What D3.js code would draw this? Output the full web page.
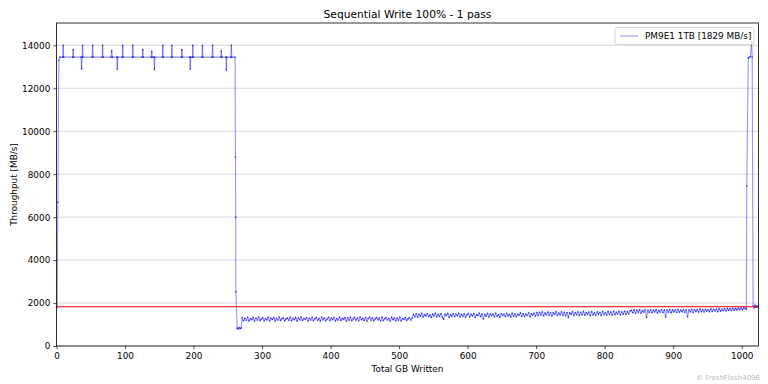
<!DOCTYPE html>
<html>
<head>
<meta charset="utf-8">
<script src="https://cdn.jsdelivr.net/npm/d3@7"></script>
<style>
  body { margin: 0; background: white; }
  svg { display: block; font-family: "DejaVu Sans", sans-serif; }
</style>
</head>
<body>
<div id="chart"></div>
<script>
const title = "Sequential Write 100% - 1 pass";
const seriesName = "PM9E1 1TB [1829 MB/s]";
const avgMBs = 1829;
const xTicks = [0, 100, 200, 300, 400, 500, 600, 700, 800, 900, 1000];
const yTicks = [0, 2000, 4000, 6000, 8000, 10000, 12000, 14000];

// SLC cache phase (GB written, MB/s)
const highGB = [
  0, 1, 2, 3.4, 5,
  8.9, 9.7, 10.5,
  23.6, 24.3, 25,
  35.9, 36.6, 37.3, 38, 38.7,
  52, 52.7, 53.4,
  66.6, 67.3, 68,
  79.6, 80.5, 81.5,
  88, 88.7, 89.4,
  95.9, 96.6, 97.3,
  110.6, 111.3, 112,
  125.2, 125.9, 126.6,
  138.3, 139, 139.7, 142.2, 142.9, 143.6,
  154.5, 155.2, 155.9,
  167.7, 168.4, 169.1,
  182.3, 183, 183.7,
  194.5, 195.2, 195.9, 198.3, 199, 199.7,
  212.3, 213, 213.7,
  227.1, 227.8, 228.5,
  239.8, 240.5, 241.2,
  247.2, 247.9, 248.6,
  254.5, 255.2, 255.9, 260.6,
  261.2, 261.5, 261.8, 263.6, 265, 266.5, 268, 269.5
];
const highMBs = [
  1850, 1800, 6700, 13300, 13450,
  13450, 14000, 13450,
  13450, 13800, 13450,
  13450, 12900, 13450, 14000, 13450,
  13450, 14000, 13450,
  13450, 14000, 13450,
  13450, 13760, 13450,
  13450, 12900, 13450,
  13450, 14000, 13450,
  13450, 14000, 13450,
  13450, 13800, 13450,
  13450, 13720, 13450, 13450, 12880, 13450,
  13450, 14000, 13450,
  13450, 14000, 13450,
  13450, 13800, 13450,
  13450, 12900, 13450, 13450, 14000, 13450,
  13450, 14000, 13450,
  13450, 14000, 13450,
  13450, 13750, 13450,
  13450, 12850, 13450,
  13450, 14000, 13450, 13450,
  8800, 6000, 2530, 830, 790, 860, 810, 840
];

// direct-to-TLC phase, one sample every 2 GB from 271 GB
const lowStartGB = 271;
const lowStepGB = 2;
const lowMBs = [
  1320, 1180, 1290, 1200, 1340, 1170, 1270, 1230, 1330, 1160,
  1300, 1210, 1350, 1190, 1260, 1310, 1170, 1280, 1220, 1340,
  1180, 1300, 1240, 1330, 1160, 1290, 1210, 1350, 1190, 1270,
  1320, 1170, 1260, 1300, 1200, 1340, 1180, 1290, 1230, 1330,
  1160, 1310, 1220, 1350, 1190, 1280, 1240, 1320, 1170, 1300,
  1210, 1340, 1180, 1270, 1330, 1200, 1290, 1160, 1350, 1220,
  1310, 1180, 1260, 1340, 1190, 1300, 1230, 1330, 1170, 1280,
  1210, 1350, 1190, 1290, 1240, 1320, 1160, 1310, 1200, 1340,
  1180, 1270, 1330, 1210, 1300, 1170, 1350, 1230, 1290, 1190,
  1320, 1160, 1280, 1340, 1200, 1310, 1180, 1260, 1330, 1220,
  1300, 1170, 1350, 1190, 1270, 1320, 1210, 1290, 1160, 1340,
  1230, 1310, 1180, 1300, 1200, 1350, 1170, 1280, 1240, 1330,
  1190, 1260, 1320, 1210, 1300,
  1470, 1360, 1500, 1340, 1480, 1390, 1520, 1350, 1460, 1410,
  1510, 1370, 1450, 1330, 1490, 1400, 1530, 1360, 1470, 1380,
  1500, 1350, 1250, 1480, 1420, 1520, 1340, 1460, 1390, 1510,
  1370, 1490, 1410, 1530, 1350, 1470, 1380, 1500, 1340, 1450,
  1520, 1360, 1480, 1400, 1510, 1330, 1460, 1420, 1530, 1370,
  1490, 1260, 1470, 1390, 1520, 1350, 1500, 1410, 1480, 1360,
  1530, 1380, 1460, 1340, 1510, 1420, 1490, 1370, 1520, 1400,
  1470, 1350, 1530, 1390, 1500, 1360, 1480, 1430, 1540, 1380,
  1510, 1370, 1490, 1420, 1540, 1360, 1500, 1440, 1530, 1390,
  1550, 1420, 1570, 1440, 1590, 1410, 1540, 1460, 1580, 1430,
  1560, 1400, 1550, 1470, 1600, 1420, 1530, 1450, 1590, 1440,
  1570, 1410, 1560, 1330, 1540, 1480, 1600, 1430, 1550, 1460,
  1590, 1420, 1570, 1450, 1610, 1440, 1560, 1470, 1580, 1410,
  1600, 1450, 1550, 1430, 1590, 1480, 1570, 1420, 1610, 1460,
  1560, 1440, 1600, 1470, 1580, 1430, 1620, 1460, 1570, 1490,
  1610, 1450, 1590, 1480, 1620, 1470, 1600, 1500, 1630,
  1660, 1550, 1680, 1530, 1670, 1570, 1690, 1540, 1650, 1580,
  1680, 1330, 1660, 1560, 1690, 1550, 1670, 1590, 1700, 1540,
  1660, 1580, 1690, 1560, 1680, 1350, 1670, 1570, 1700, 1550,
  1680, 1590, 1690, 1560, 1710, 1580, 1670, 1600, 1700, 1570,
  1690, 1360, 1680, 1590, 1710, 1570, 1700, 1610, 1690, 1580,
  1720, 1600, 1700, 1590, 1710, 1620, 1690, 1600, 1730, 1610,
  1710, 1630, 1720, 1600, 1740, 1620, 1710, 1650, 1730, 1640,
  1750, 1660, 1740, 1650, 1760, 1670, 1750, 1680, 1770, 1690,
  1760, 1700, 1780
];

// cache recovers briefly near the end
const tailGB = [1005, 1006.8, 1007.4, 1009.6, 1011, 1012.8, 1014.4, 1015.3, 1016.6, 1018, 1019.3, 1020.6, 1022, 1023.5];
const tailMBs = [1750, 1720, 7460, 13400, 13440, 13480, 14150, 13450, 1850, 1780, 1900, 1800, 1870, 1810];

function drawChart(containerSelector, data) {
  const width = 768;
  const height = 384;
  const margin = { top: 23, right: 9.5, bottom: 38, left: 56.5 };

  const svg = d3.select(containerSelector)
    .append("svg")
    .attr("width", width)
    .attr("height", height)
    .style("background", "white");

  const x = d3.scaleLinear()
    .domain([0, 1024.5])
    .range([margin.left, width - margin.right]);

  const y = d3.scaleLinear()
    .domain([0, 15040])
    .range([height - margin.bottom, margin.top]);

  // horizontal grid
  svg.append("g")
    .selectAll("line")
    .data(yTicks)
    .enter()
    .append("line")
      .attr("x1", margin.left)
      .attr("x2", width - margin.right)
      .attr("y1", d => y(d))
      .attr("y2", d => y(d))
      .attr("stroke", "#cfcfcf")
      .attr("stroke-width", 0.8);

  // each step drawn on its own so the translucent strokes pile up where samples are dense
  svg.append("g")
    .selectAll("line")
    .data(d3.pairs(data))
    .enter()
    .append("line")
      .attr("x1", d => x(d[0].gb))
      .attr("y1", d => y(d[0].mbs))
      .attr("x2", d => x(d[1].gb))
      .attr("y2", d => y(d[1].mbs))
      .attr("stroke", "#0000ff")
      .attr("stroke-opacity", 0.42)
      .attr("stroke-width", 1.1)
      .attr("stroke-linecap", "round");

  // tiny sample markers
  svg.append("g")
    .selectAll("circle")
    .data(data)
    .enter()
    .append("circle")
      .attr("cx", d => x(d.gb))
      .attr("cy", d => y(d.mbs))
      .attr("r", 0.85)
      .attr("fill", "#0000ff")
      .attr("fill-opacity", 0.55);

  // average line
  svg.append("line")
    .attr("x1", x(0))
    .attr("x2", x(1024.5))
    .attr("y1", y(avgMBs))
    .attr("y2", y(avgMBs))
    .attr("stroke", "red")
    .attr("stroke-width", 1.1);

  const xAxis = svg.append("g")
    .attr("transform", `translate(0,${height - margin.bottom})`)
    .call(d3.axisBottom(x).tickValues(xTicks).tickSize(3.1).tickPadding(3.1).tickFormat(d3.format("d")));

  const yAxis = svg.append("g")
    .attr("transform", `translate(${margin.left},0)`)
    .call(d3.axisLeft(y).tickValues(yTicks).tickSize(3.1).tickPadding(3.1).tickFormat(d3.format("d")));

  [xAxis, yAxis].forEach(a => {
    a.select(".domain").remove();
    a.selectAll("text").attr("font-size", "8.9px").attr("font-family", "DejaVu Sans").attr("fill", "#000");
    a.selectAll("line").attr("stroke", "#000").attr("stroke-width", 0.7);
  });

  // frame
  svg.append("rect")
    .attr("x", margin.left)
    .attr("y", margin.top)
    .attr("width", width - margin.left - margin.right)
    .attr("height", height - margin.top - margin.bottom)
    .attr("fill", "none")
    .attr("stroke", "#000")
    .attr("stroke-width", 0.8);

  // legend
  const lg = svg.append("g").attr("transform", `translate(${width - margin.right - 4.5},${margin.top + 4.5})`);
  lg.append("rect")
    .attr("x", -139)
    .attr("y", 0)
    .attr("width", 139)
    .attr("height", 17)
    .attr("rx", 2.5)
    .attr("fill", "white")
    .attr("fill-opacity", 0.8)
    .attr("stroke", "#cccccc")
    .attr("stroke-width", 0.8);
  lg.append("line")
    .attr("x1", -134)
    .attr("x2", -116)
    .attr("y1", 8.5)
    .attr("y2", 8.5)
    .attr("stroke", "#0000ff")
    .attr("stroke-opacity", 0.42)
    .attr("stroke-width", 1.1);
  lg.append("text")
    .attr("x", -109)
    .attr("y", 11.8)
    .attr("font-size", "8.9px")
    .text(seriesName);

  svg.append("text")
    .attr("x", (margin.left + width - margin.right) / 2)
    .attr("y", 18)
    .attr("text-anchor", "middle")
    .attr("font-size", "10.7px")
    .text(title);

  svg.append("text")
    .attr("x", (margin.left + width - margin.right) / 2)
    .attr("y", 372)
    .attr("text-anchor", "middle")
    .attr("font-size", "8.9px")
    .text("Total GB Written");

  svg.append("text")
    .attr("transform", `translate(17,${(margin.top + height - margin.bottom) / 2}) rotate(-90)`)
    .attr("text-anchor", "middle")
    .attr("font-size", "8.9px")
    .text("Throughput [MB/s]");

  svg.append("text")
    .attr("x", 760)
    .attr("y", 380)
    .attr("text-anchor", "end")
    .attr("font-size", "7px")
    .attr("fill", "#bbbbbb")
    .text("\u00a9 FreshFlash4096");
}

const data = highGB.map((gb, i) => ({ gb, mbs: highMBs[i] }))
  .concat(lowMBs.map((mbs, i) => ({ gb: lowStartGB + i * lowStepGB, mbs })))
  .concat(tailGB.map((gb, i) => ({ gb, mbs: tailMBs[i] })));

drawChart("#chart", data);
</script>
</body>
</html>
